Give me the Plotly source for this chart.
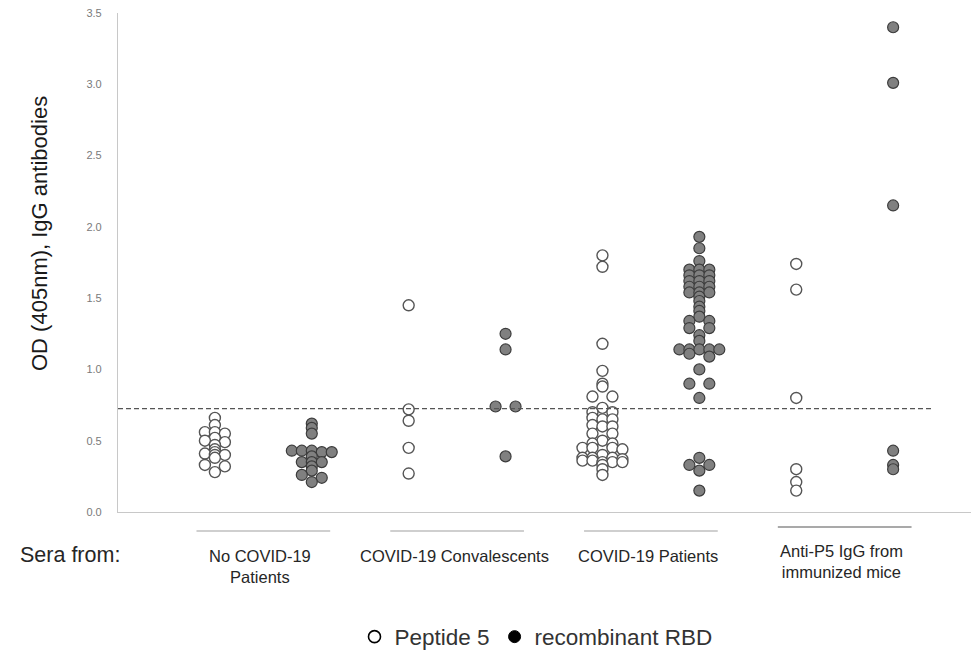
import plotly.graph_objects as go

# ---------------- data ----------------
group_labels = ["No COVID-19<br>Patients", "COVID-19 Convalescents",
                "COVID-19 Patients", "Anti-P5 IgG from<br>immunized mice"]

peptide5 = [
    [0.66, 0.61, 0.56, 0.56, 0.55, 0.52, 0.50, 0.49, 0.47, 0.44, 0.42, 0.41,
     0.40, 0.40, 0.38, 0.33, 0.32, 0.28],
    [1.45, 0.72, 0.64, 0.45, 0.27],
    [1.80, 1.72, 1.18, 0.99, 0.90, 0.88, 0.81, 0.81, 0.73, 0.70, 0.70, 0.66,
     0.65, 0.65, 0.61, 0.60, 0.60, 0.55, 0.55, 0.50, 0.48, 0.48, 0.45, 0.45,
     0.45, 0.44, 0.40, 0.38, 0.38, 0.38, 0.37, 0.36, 0.36, 0.35, 0.35, 0.35,
     0.33, 0.30, 0.26],
    [1.74, 1.56, 0.80, 0.30, 0.21, 0.15],
]

rbd = [
    [0.62, 0.59, 0.55, 0.43, 0.43, 0.43, 0.42, 0.42, 0.39, 0.35, 0.35, 0.35,
     0.32, 0.29, 0.26, 0.24, 0.21],
    [1.25, 1.14, 0.74, 0.74, 0.39],
    [1.93, 1.85, 1.76, 1.70, 1.70, 1.70, 1.66, 1.66, 1.66, 1.62, 1.62, 1.62,
     1.58, 1.58, 1.58, 1.54, 1.54, 1.54, 1.51, 1.48, 1.44, 1.41, 1.37, 1.34,
     1.34, 1.29, 1.29, 1.24, 1.20, 1.14, 1.14, 1.14, 1.14, 1.14, 1.11, 1.09,
     1.00, 0.90, 0.90, 0.80, 0.38, 0.33, 0.33, 0.29, 0.15],
    [3.40, 3.01, 2.15, 0.43, 0.33, 0.30],
]

cutoff = 0.725
y_ticks = [0.0, 0.5, 1.0, 1.5, 2.0, 2.5, 3.0, 3.5]

# ---------------- helpers ----------------
X_RANGE = [0, 8.845]
SLOT = 0.103      # horizontal step between side-by-side points (data units)
BIN_W = 0.025     # values closer than this are laid side by side


def swarm_x(values, center):
    bins = {}
    for i, v in enumerate(values):
        bins.setdefault(round(v / BIN_W), []).append(i)
    xs = [center] * len(values)
    for idxs in bins.values():
        n = len(idxs)
        offs = []
        if n % 2:
            offs.append(0)
        k = 1
        while len(offs) < n:
            offs.extend([-k, k])
            k += 1
        offs = sorted(offs[:n])
        for j, i in enumerate(idxs):
            xs[i] = center + offs[j] * SLOT
    return xs


fig = go.Figure()

for g in range(len(group_labels)):
    cpep = 2 * g + 1
    crbd = 2 * g + 2
    fig.add_trace(go.Scatter(
        x=swarm_x(peptide5[g], cpep), y=peptide5[g], mode="markers",
        marker=dict(size=11, color="white", line=dict(color="#555555", width=1.4)),
        showlegend=False, hoverinfo="y"))
    fig.add_trace(go.Scatter(
        x=swarm_x(rbd[g], crbd), y=rbd[g], mode="markers",
        marker=dict(size=11, color="#808080", line=dict(color="#3c3c3c", width=1.2)),
        showlegend=False, hoverinfo="y"))

# legend-only traces
fig.add_trace(go.Scatter(x=[None], y=[None], mode="markers", name="Peptide 5",
                         marker=dict(size=12, color="white",
                                     line=dict(color="black", width=1.6))))
fig.add_trace(go.Scatter(x=[None], y=[None], mode="markers", name="recombinant RBD",
                         marker=dict(size=12, color="black",
                                     line=dict(color="black", width=1))))

# cut-off line
fig.add_shape(type="line", xref="x", yref="y", x0=0, x1=8.4, y0=cutoff, y1=cutoff,
              line=dict(color="#555555", width=1.2, dash="5px,3px"))

# plot area in page pixels: x 118..975, y 13..512 (page has 8px body margin)
PW, PH = 857, 499
FIG_W, FIG_H = 971, 649


def px_x(p):
    return (p - 118) / PW


def px_y(p):
    return (512 - p) / PH


# group separator lines and labels
for g, lab in enumerate(group_labels):
    c = 2 * g + 1.5
    yl = px_y(527) if g == 3 else px_y(531)
    fig.add_shape(type="line", xref="x", yref="paper", x0=c - 0.69, x1=c + 0.69,
                  y0=yl, y1=yl,
                  line=dict(color="#8c8c8c" if g == 3 else "#a0a0a0",
                            width=1.6 if g == 3 else 1.2))
    fig.add_annotation(x=c - 0.03, xref="x", y=px_y(540) if g == 3 else px_y(545),
                       yref="paper", text=lab, showarrow=False, yanchor="top",
                       xanchor="center",
                       font=dict(size=16.5, color="#262626",
                                 family="Liberation Sans, Arial, sans-serif"))

fig.add_annotation(text="Sera from:", x=px_x(18), xref="paper", y=px_y(541),
                   yref="paper", showarrow=False, xanchor="left", yanchor="top",
                   font=dict(size=21.5, color="#262626"))

fig.add_annotation(text="OD (405nm), IgG antibodies", textangle=-90,
                   x=px_x(39), xref="paper", y=px_y(234), yref="paper",
                   showarrow=False, xanchor="center", yanchor="middle",
                   font=dict(size=22, color="#1a1a1a"))

fig.update_layout(
    width=FIG_W, height=FIG_H,
    margin=dict(l=110, r=4, t=5, b=145),
    paper_bgcolor="white", plot_bgcolor="white",
    font=dict(family="Liberation Sans, Arial, sans-serif", color="#262626"),
    xaxis=dict(range=X_RANGE, showgrid=False, zeroline=False, showticklabels=False,
               ticks="", showline=True, linecolor="#c8c8c8", linewidth=1.2,
               fixedrange=True),
    yaxis=dict(range=[0, 3.5], showgrid=False, zeroline=False, showline=True,
               linecolor="#c8c8c8", linewidth=1.2, ticks="", automargin=False,
               tickvals=y_ticks, ticktext=[f"{v:.1f}" for v in y_ticks],
               ticklabeloverflow="allow",
               tickfont=dict(size=11, color="#7a7a7a"), ticklabelstandoff=13),
    showlegend=True,
    legend=dict(orientation="h", xref="container", x=(536 - 8) / FIG_W,
                xanchor="center", yref="container", y=1 - (637 - 8) / FIG_H,
                yanchor="middle", font=dict(size=22.5, color="#333333"),
                bgcolor="rgba(0,0,0,0)", itemclick=False, itemdoubleclick=False),
)

fig.write_html("out.html")
